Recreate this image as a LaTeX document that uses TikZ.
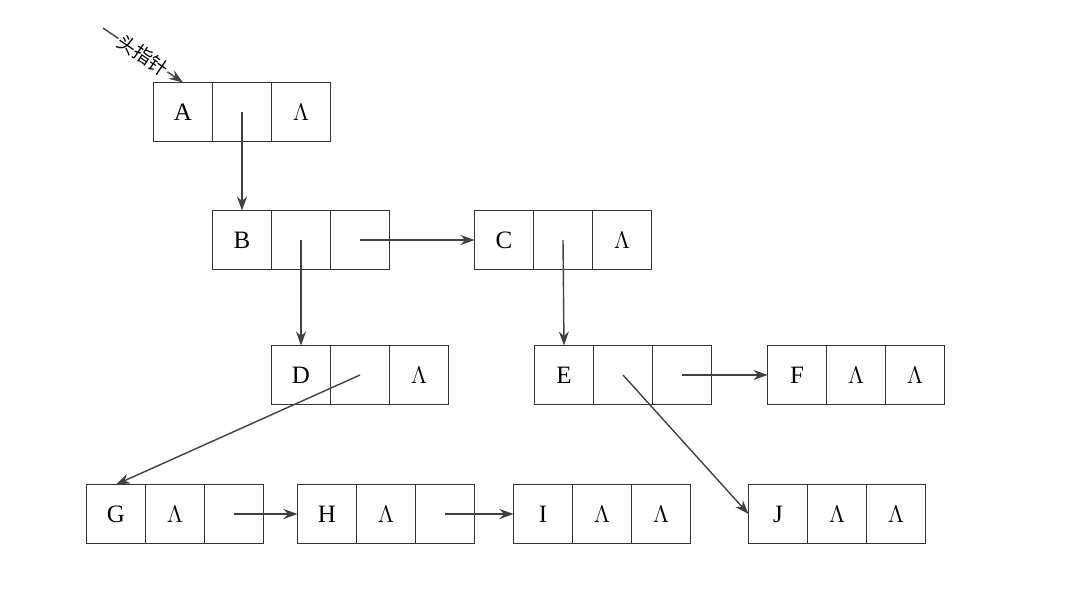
\documentclass[tikz,border=0pt]{standalone}
\usepackage{fontspec}
\setmainfont{Liberation Serif}
\newfontfamily\cjk{Noto Sans CJK SC}
\usepackage{tikz}
\usetikzlibrary{positioning,arrows.meta}

\begin{document}
\begin{tikzpicture}[x=0.5pt,y=-0.5pt,
  cell/.style={draw=black!80,line width=0.7pt,minimum size=29.5pt,inner sep=0pt,outer sep=0pt,font=\fontsize{12.5}{14}\selectfont},
  arr/.style={draw=black!75,line width=0.7pt,-{Stealth[length=7pt,width=5pt]}}]
\useasboundingbox (0,0) rectangle (1085,591);
% list nodes
\node [cell] (A1) at (183,112) {A};
\node [cell,right=0pt of A1] (A2) {};
\node [cell,right=0pt of A2] (A3) {$\Lambda$};
\node [cell] (B1) at (242,240) {B};
\node [cell,right=0pt of B1] (B2) {};
\node [cell,right=0pt of B2] (B3) {};
\node [cell] (C1) at (504,240) {C};
\node [cell,right=0pt of C1] (C2) {};
\node [cell,right=0pt of C2] (C3) {$\Lambda$};
\node [cell] (D1) at (301,375) {D};
\node [cell,right=0pt of D1] (D2) {};
\node [cell,right=0pt of D2] (D3) {$\Lambda$};
\node [cell] (E1) at (564,375) {E};
\node [cell,right=0pt of E1] (E2) {};
\node [cell,right=0pt of E2] (E3) {};
\node [cell] (F1) at (797,375) {F};
\node [cell,right=0pt of F1] (F2) {$\Lambda$};
\node [cell,right=0pt of F2] (F3) {$\Lambda$};
\node [cell] (G1) at (116,514) {G};
\node [cell,right=0pt of G1] (G2) {$\Lambda$};
\node [cell,right=0pt of G2] (G3) {};
\node [cell] (H1) at (327,514) {H};
\node [cell,right=0pt of H1] (H2) {$\Lambda$};
\node [cell,right=0pt of H2] (H3) {};
\node [cell] (I1) at (543,514) {I};
\node [cell,right=0pt of I1] (I2) {$\Lambda$};
\node [cell,right=0pt of I2] (I3) {$\Lambda$};
\node [cell] (J1) at (778,514) {J};
\node [cell,right=0pt of J1] (J2) {$\Lambda$};
\node [cell,right=0pt of J2] (J3) {$\Lambda$};
% head pointer
\coordinate (head) at (103,28);
\draw [arr] (head) -- node [sloped,fill=white,inner sep=0.5pt,font=\cjk\fontsize{9.5}{11}\selectfont] {头指针} (A1.north);
% links
\draw [arr] (A2.center) -- (B1.north);
\draw [arr] (B2.center) -- (D1.north);
\draw [arr] (B3.center) -- (C1.west);
\draw [arr] (C2.center) -- (E1.north);
\draw [arr] (D2.center) -- (G1.north);
\draw [arr] (E2.center) -- (J1.west);
\draw [arr] (E3.center) -- (F1.west);
\draw [arr] (G3.center) -- (H1.west);
\draw [arr] (H3.center) -- (I1.west);
\end{tikzpicture}
\end{document}
